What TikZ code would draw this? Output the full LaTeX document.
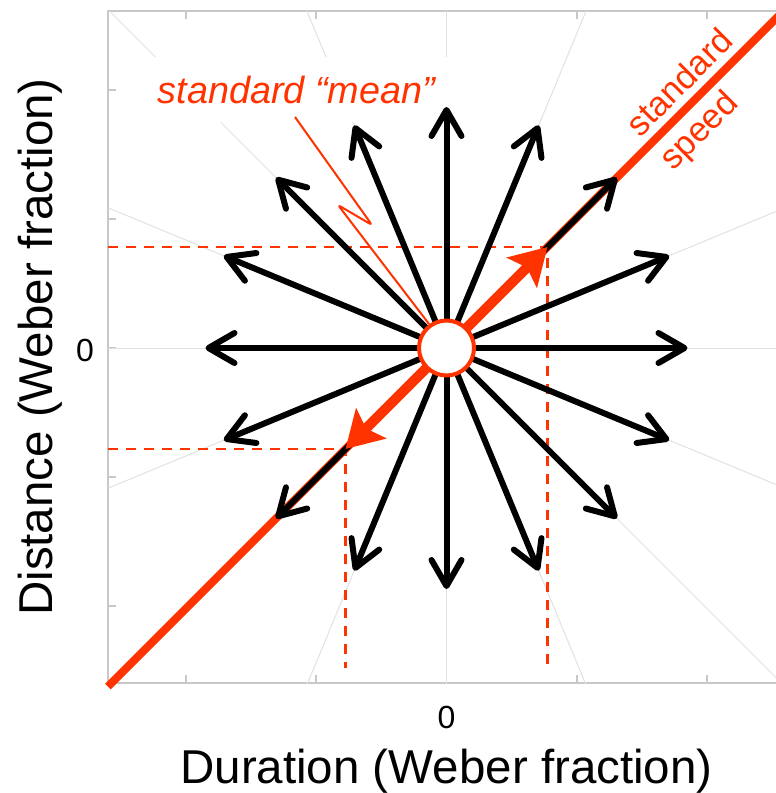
\documentclass[tikz,border=0pt]{standalone}
\usepackage{fontspec}
\setmainfont{Liberation Sans}
\usetikzlibrary{calc, positioning}
\usetikzlibrary{arrows.meta}

\definecolor{speedred}{RGB}{255,51,0}
\definecolor{axisgray}{RGB}{200,200,200}
\definecolor{raygray}{RGB}{225,225,225}

\tikzset{
  vec/.style={line width=6pt, -{Straight Barb[length=26pt, width=30pt, round]}},
  mainvec/.style={speedred, line width=10pt, -{Stealth[length=36pt, width=42pt, inset=7pt]}},
  guide/.style={speedred, line width=2.5pt, dash pattern=on 10pt off 8pt},
  ray/.style={raygray, line width=1pt},
  axisline/.style={axisgray, line width=1.5pt},
}

\begin{document}
\begin{tikzpicture}[x=1pt, y=-1pt]
\def\len{241}
\def\ctr{101}

\useasboundingbox (0,0) rectangle (776,793);
\clip (0,0) rectangle (776,793);

\coordinate (C) at (446.5,348);
\coordinate (NW) at (108,11);
\coordinate (SE) at (785,683);
\coordinate (B) at (0,668);
\coordinate (hi) at ($(C)+(\ctr,-\ctr)$);
\coordinate (lo) at ($(C)+(-\ctr,\ctr)$);
\coordinate (Lo) at ($(C)+(-338.5,338.5)$);
\coordinate (Hi) at ($(C)+(420,-420)$);
\foreach \i in {0,...,15}
  \coordinate (tip\i) at ($(C)+({\len*cos(22.5*\i)},{-\len*sin(22.5*\i)})$);

% axes
\draw[axisline] (NW) rectangle (SE);
\foreach \x in {186,316,446.5,577,707} {
  \draw[axisline] (\x,11) -- (\x,19);
  \draw[axisline] (\x,683) -- (\x,675);
}
\foreach \y in {90,219,348,477,606}
  \draw[axisline] (108,\y) -- (116,\y);

% faint rays beyond the tips
\begin{scope}
\clip (NW) rectangle (SE);
\foreach \i in {0,...,15}
  \draw[ray] (tip\i) -- ++({500*cos(22.5*\i)},{-500*sin(22.5*\i)});
\end{scope}

\node[font=\itshape\fontsize{37.8}{45}\selectfont, text=speedred, fill=white, anchor=base,
  text height=46pt, text depth=19pt, inner xsep=15pt, inner ysep=0pt] (mean) at (296.5,103) {standard “mean”};

\draw[guide] (NW |- hi) -- (hi) -- (hi |- B);
\draw[guide] (NW |- lo) -- (lo) -- (lo |- B);

\draw[speedred, line width=8pt] (Lo) -- (Hi);

\foreach \i in {0,...,15}
  \draw[vec] (C) -- (tip\i);

\draw[mainvec] (C) -- (hi);
\draw[mainvec] (C) -- (lo);

\node[circle, draw=speedred, line width=4pt, fill=white, minimum size=55pt, inner sep=0pt] (ring) at (C) {};

\coordinate (p0) at (295,117);
\coordinate (p1) at (372,225);
\coordinate (p2) at (338,205);
\draw[speedred, line width=2pt, line join=round, rounded corners=3pt] (p0) -- (p1) -- (p2) -- (ring.126);

\node[speedred, rotate=45, align=left, font=\fontsize{34.5}{47}\selectfont] (speed) at (698,101) {standard\\speed};

\node[font=\fontsize{32}{38}\selectfont, anchor=base] (yzero) at (85,361.5) {0};
\node[font=\fontsize{32}{38}\selectfont, anchor=base] (xzero) at (446.5,728) {0};
\node[font=\fontsize{47.5}{57}\selectfont, anchor=base] (xlab) at (446.5,783) {Duration (Weber fraction)};
\node[font=\fontsize{47.5}{57}\selectfont, rotate=90, anchor=base] (ylab) at (52,347) {Distance (Weber fraction)};
\end{tikzpicture}
\end{document}
